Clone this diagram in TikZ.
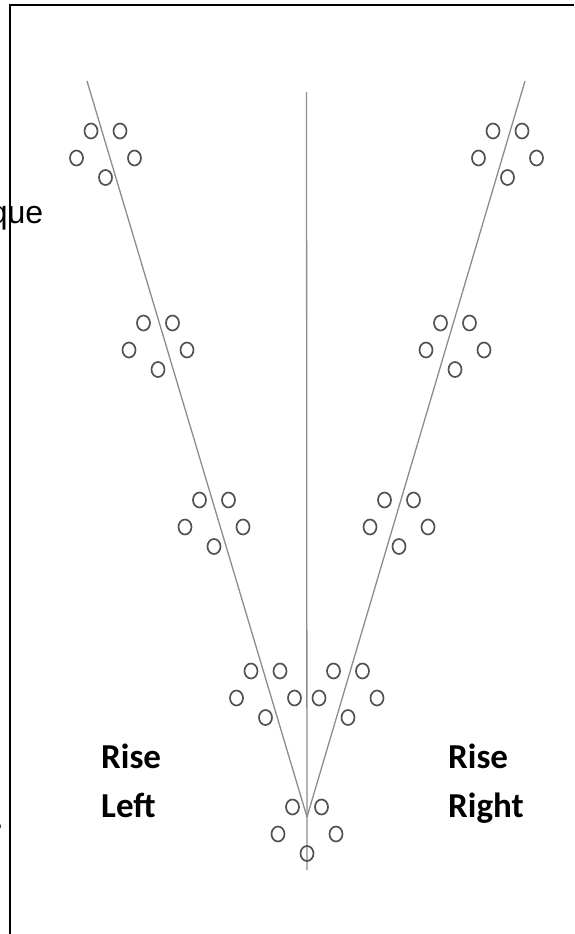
\documentclass[tikz,border=0pt]{standalone}
\usepackage{fontspec}
\newfontfamily\labfont{Carlito}
\newfontfamily\sidefont{Liberation Sans}
\begin{document}
\begin{tikzpicture}[x=1pt,y=-1pt,
  pin/.style={draw=black!68, line width=1.7pt},
  ray/.style={draw=black!45, line width=1.3pt},
  frame/.style={draw=black, line width=2pt},
  lab/.style={inner sep=0pt, font=\labfont\bfseries\fontsize{35}{42}\selectfont},
  cut/.style={inner sep=0pt, font=\sidefont\fontsize{32}{38}\selectfont}]
\useasboundingbox (0,0) rectangle (574,934);
\clip (0,0) rectangle (574,934);
% frame
\coordinate (fbl) at (10,934);
\coordinate (ftl) at (10,5);
\coordinate (ftr) at (574,5);
\draw[frame] (fbl) -- (ftl) -- (ftr);
% rays
\coordinate (apex) at (307,817);
\coordinate (ltop) at (87,81);
\coordinate (rtop) at (525,81);
\coordinate (ctop) at (306.5,92);
\coordinate (cbot) at (307,870);
\draw[ray] (ltop) -- (apex);
\draw[ray] (rtop) -- (apex);
\draw[ray] (ctop) -- (cbot);
% clusters of circles
\foreach \c/\y in {105.5/131, 158/323, 214/500, 265.5/671, 307/807, 348/671, 399/500, 455/323, 507.5/131} {
  \draw[pin] (\c-14.5,\y) ellipse [x radius=6.5pt, y radius=7.5pt];
  \draw[pin] (\c+14.5,\y) ellipse [x radius=6.5pt, y radius=7.5pt];
  \draw[pin] (\c-29,\y+27) ellipse [x radius=6.5pt, y radius=7.5pt];
  \draw[pin] (\c+29,\y+27) ellipse [x radius=6.5pt, y radius=7.5pt];
  \draw[pin] (\c,\y+46.5) ellipse [x radius=6.5pt, y radius=7.5pt];
}
% labels
\node[lab, anchor=base west] (riseL) at (101,768) {Rise};
\node[lab, anchor=base west] (left) at (101,817) {Left};
\node[lab, anchor=base west] (riseR) at (448,768) {Rise};
\node[lab, anchor=base west] (right) at (448,817) {Right};
% cut-off text at the left edge
\node[cut, anchor=base east] (que) at (43.5,223) {que};
\node[cut, anchor=base east] (dot) at (4,828) {.};
\end{tikzpicture}
\end{document}
